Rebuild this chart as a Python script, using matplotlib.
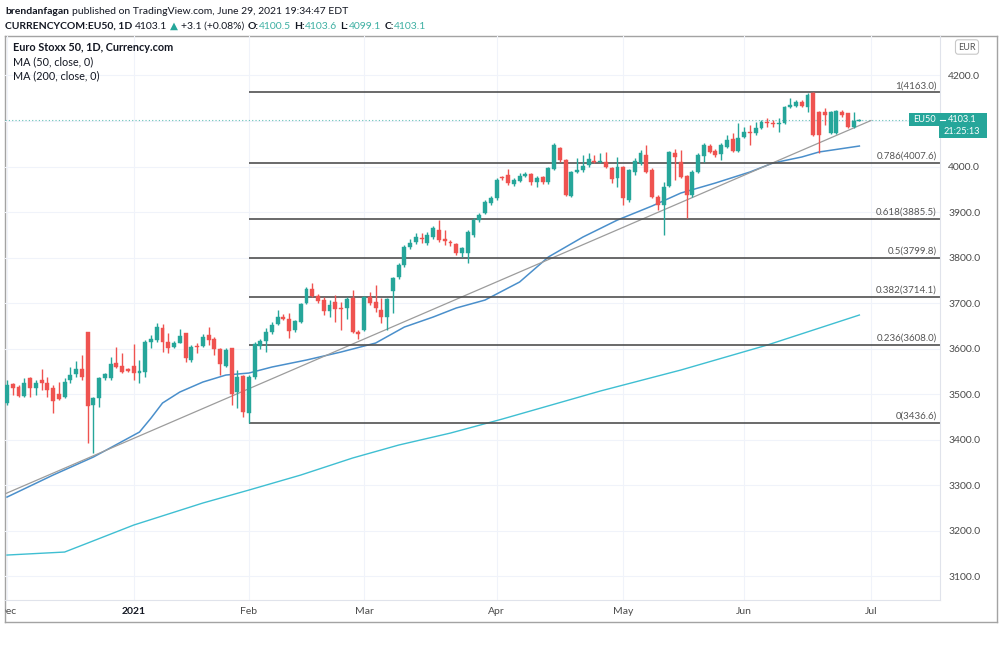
import numpy as np
import pandas as pd
import matplotlib
matplotlib.use("Agg")
import matplotlib.pyplot as plt
import matplotlib.transforms as mtransforms
from matplotlib.patches import Rectangle

plt.rcParams['font.family'] = ['Lato', 'DejaVu Sans']

# ---- data (daily bars, Dec 1 2020 .. Jun 29 2021) ----
holidays = ['2020-12-25', '2021-01-01']

opens = [3480.2, 3522.0, 3515.4, 3495.6, 3535.1, 3513.2, 3530.7, 3524.2, 3513.2, 3500.0,
         3493.4, 3530.7, 3543.9, 3554.9, 3636.2, 3475.8, 3491.2, 3535.1, 3535.1, 3568.1,
         3561.5, 3554.9, 3561.5, 3546.1, 3548.3, 3614.2, 3618.6, 3645.0, 3614.2, 3603.3,
         3612.0, 3634.0, 3574.7, 3605.5, 3605.5, 3629.6, 3620.8, 3598.9, 3561.5, 3601.1,
         3504.4, 3539.5, 3458.2, 3537.3, 3605.5, 3616.4, 3636.2, 3653.8, 3669.2, 3664.8,
         3640.6, 3658.2, 3700.0, 3730.8, 3715.4, 3706.6, 3682.4, 3702.2, 3689.0, 3689.0,
         3711.0, 3636.2, 3640.6, 3713.2, 3702.2, 3684.6, 3669.2, 3726.4, 3757.2, 3783.5,
         3823.1, 3834.1, 3842.9, 3831.9, 3845.1, 3860.5, 3840.7, 3834.1, 3829.7, 3809.9,
         3809.9, 3849.5, 3882.4, 3897.8, 3919.8, 3930.8, 3977.0, 3981.3, 3961.6, 3968.2,
         3979.2, 3983.5, 3966.0, 3977.0, 3966.0, 3994.5, 4040.7, 4014.3, 3935.2, 3987.9,
         3992.3, 4003.3, 4012.1, 4009.9, 4009.9, 3996.7, 3974.8, 3998.9, 3926.4, 3987.9,
         4007.7, 4025.3, 3992.3, 3933.0, 3915.4, 3957.2, 4029.7, 4009.9, 3979.2, 3937.4,
         3987.9, 4023.1, 4045.1, 4034.1, 4027.5, 4042.9, 4060.5, 4034.1, 4064.9, 4075.9,
         4073.7, 4084.7, 4097.8, 4095.6, 4093.4, 4095.6, 4130.8, 4133.0, 4141.8, 4130.8,
         4161.6, 4119.8, 4119.8, 4073.7, 4073.7, 4119.8, 4117.6, 4086.9, 4100.5]
highs = [3530.7, 3524.2, 3519.8, 3535.1, 3537.3, 3530.7, 3554.9, 3537.3, 3519.8, 3526.4,
         3535.1, 3559.3, 3572.5, 3585.7, 3636.2, 3493.4, 3537.3, 3546.1, 3581.3, 3603.3,
         3590.1, 3557.1, 3609.8, 3574.7, 3618.6, 3629.6, 3656.0, 3653.8, 3634.0, 3616.4,
         3642.8, 3634.0, 3607.6, 3612.0, 3631.8, 3647.2, 3625.2, 3601.1, 3601.1, 3601.1,
         3552.7, 3541.7, 3541.7, 3614.0, 3620.8, 3645.0, 3658.2, 3684.6, 3675.8, 3678.0,
         3662.6, 3700.0, 3735.2, 3743.9, 3719.8, 3713.2, 3706.6, 3717.6, 3702.2, 3713.2,
         3728.6, 3640.6, 3715.4, 3724.2, 3739.5, 3711.0, 3711.0, 3757.2, 3787.9, 3827.5,
         3840.0, 3853.0, 3853.9, 3856.0, 3870.0, 3882.4, 3860.5, 3838.0, 3831.9, 3823.1,
         3860.5, 3886.8, 3898.0, 3926.0, 3935.0, 3975.0, 3980.0, 3994.5, 3974.0, 3985.7,
         3987.0, 3985.7, 3979.2, 3980.0, 3999.0, 4051.7, 4042.9, 4016.0, 3990.0, 4018.7,
         4025.3, 4029.7, 4025.3, 4029.7, 4031.9, 3998.9, 4020.9, 4001.1, 3995.0, 4018.7,
         4036.3, 4047.3, 3996.7, 3937.4, 3966.0, 4034.0, 4038.5, 4036.3, 3981.3, 3992.3,
         4029.0, 4051.7, 4049.5, 4038.0, 4051.7, 4069.3, 4073.7, 4095.6, 4086.9, 4091.2,
         4097.8, 4102.2, 4106.6, 4102.2, 4106.6, 4133.0, 4150.6, 4146.0, 4146.0, 4161.6,
         4163.0, 4122.0, 4128.6, 4122.0, 4124.0, 4124.2, 4117.6, 4119.8, 4103.6]
lows = [3475.8, 3497.8, 3493.4, 3493.4, 3493.4, 3497.8, 3508.8, 3493.4, 3458.2, 3486.8,
        3491.2, 3524.2, 3537.3, 3530.7, 3392.3, 3370.3, 3471.4, 3530.7, 3530.7, 3557.1,
        3546.1, 3548.3, 3530.7, 3524.2, 3537.3, 3601.1, 3614.2, 3592.3, 3590.1, 3601.1,
        3612.0, 3570.3, 3570.3, 3590.1, 3603.3, 3607.6, 3585.7, 3541.7, 3559.3, 3475.8,
        3469.2, 3450.0, 3436.6, 3532.0, 3600.0, 3592.3, 3631.8, 3651.6, 3662.6, 3623.0,
        3636.2, 3656.0, 3697.8, 3713.2, 3700.0, 3673.6, 3669.2, 3658.2, 3640.6, 3664.8,
        3634.0, 3620.8, 3638.4, 3695.6, 3680.2, 3656.0, 3640.6, 3678.0, 3753.0, 3779.0,
        3818.0, 3830.0, 3831.9, 3828.0, 3840.0, 3834.1, 3827.5, 3826.0, 3805.5, 3801.1,
        3787.9, 3845.0, 3878.0, 3895.0, 3915.0, 3926.0, 3970.0, 3959.4, 3958.0, 3966.0,
        3976.0, 3959.4, 3955.0, 3962.0, 3962.0, 3992.0, 4009.9, 3935.0, 3933.0, 3985.7,
        3987.9, 3998.9, 4007.7, 4007.7, 3996.7, 3963.8, 3955.0, 3915.4, 3922.0, 3981.3,
        4003.3, 3985.7, 3930.8, 3904.4, 3849.5, 3955.0, 3970.4, 3974.8, 3886.8, 3933.0,
        3985.0, 4009.9, 4029.7, 4020.0, 4014.3, 4040.7, 4031.9, 4031.9, 4062.7, 4047.3,
        4069.3, 4082.5, 4086.9, 4086.9, 4075.9, 4093.0, 4128.6, 4130.0, 4130.0, 4119.8,
        4067.0, 4029.7, 4091.2, 4071.0, 4071.0, 4108.8, 4084.7, 4084.7, 4099.1]
closes = [3519.8, 3513.2, 3495.6, 3524.2, 3513.2, 3524.2, 3524.2, 3508.8, 3484.6, 3489.0,
          3526.4, 3541.7, 3554.9, 3537.3, 3473.6, 3491.2, 3535.1, 3543.9, 3565.9, 3559.3,
          3548.3, 3550.5, 3546.1, 3550.5, 3614.2, 3620.8, 3647.2, 3614.2, 3601.1, 3612.0,
          3627.4, 3579.1, 3603.3, 3603.3, 3625.2, 3618.6, 3598.9, 3565.9, 3596.7, 3500.0,
          3537.3, 3460.4, 3537.3, 3609.8, 3616.4, 3636.2, 3651.6, 3669.2, 3664.8, 3638.4,
          3660.4, 3697.8, 3730.8, 3715.4, 3704.4, 3682.4, 3695.6, 3686.8, 3686.8, 3708.8,
          3636.2, 3631.8, 3713.2, 3700.0, 3689.0, 3669.2, 3708.8, 3755.0, 3783.5, 3823.1,
          3831.9, 3845.1, 3840.7, 3849.5, 3864.9, 3838.5, 3836.3, 3831.9, 3809.9, 3820.9,
          3856.1, 3882.4, 3893.4, 3922.0, 3930.8, 3970.4, 3974.8, 3963.8, 3970.4, 3979.2,
          3983.5, 3966.0, 3974.8, 3966.0, 3996.7, 4047.3, 4014.3, 3937.4, 3987.9, 3992.3,
          4001.1, 4016.5, 4009.9, 4012.1, 3998.9, 3972.6, 3998.9, 3930.8, 3992.3, 4012.1,
          4029.7, 3987.9, 3933.0, 3915.4, 3955.0, 4031.9, 4020.9, 3977.0, 3937.4, 3987.9,
          4025.3, 4047.3, 4031.9, 4025.3, 4047.3, 4058.3, 4034.1, 4062.7, 4075.9, 4073.7,
          4084.7, 4097.8, 4095.6, 4093.4, 4095.6, 4130.8, 4135.2, 4141.8, 4133.0, 4157.2,
          4069.3, 4069.3, 4113.2, 4119.8, 4122.0, 4113.2, 4086.9, 4100.0, 4103.1]

# moving averages read at sample bars (bar number, value)
ma50_bar = [0, 8, 15, 23, 25, 27, 30, 34, 38, 42, 46, 52, 58, 64, 69, 74, 78, 83, 89, 94,
            100, 106, 112, 117, 123, 129, 133, 138, 141, 148]
ma50_val = [3273.5, 3321.9, 3361.5, 3416.4, 3447.0, 3480.2, 3504.3, 3526.3, 3541.7, 3546.1,
            3559.3, 3574.7, 3592.3, 3612.0, 3647.2, 3669.2, 3689.0, 3706.5, 3746.1, 3801.1,
            3845.0, 3882.4, 3913.2, 3941.7, 3963.7, 3987.9, 4007.7, 4020.9, 4031.9, 4045.0]
ma200_bar = [0, 10, 14, 22, 34, 42, 51, 60, 68, 77, 86, 103, 117, 132, 148]
ma200_val = [3146.1, 3152.7, 3172.4, 3212.0, 3260.4, 3288.9, 3321.9, 3359.3, 3387.8, 3414.2,
             3445.0, 3506.5, 3552.7, 3607.6, 3673.6]

# trend line drawing (bar number, price)
trend_bar = [-1, 150]
trend_val = [3277.0, 4101.0]

# fibonacci retracement, anchored at the Feb 1 low
fib_start_bar = 42
fib_ratio = [1, 0.786, 0.618, 0.5, 0.382, 0.236, 0]
fib_level = [4163.0, 4007.6, 3885.5, 3799.8, 3714.1, 3608.0, 3436.6]

price_ticks = [3100, 3200, 3300, 3400, 3500, 3600, 3700, 3800, 3900, 4000, 4100, 4200]

GREEN = '#26a69a'
RED = '#ef5350'
TEAL = '#26a69a'
TXT = '#131722'
GREY = '#4a4a4a'

# ---- bar calendar ----
cal = pd.bdate_range('2020-12-01', '2021-07-02')
cal = cal[~cal.isin(pd.to_datetime(holidays))]
n = len(closes)
idx = np.arange(n)

month_pos, month_lab = [], []
prev = None
for i, d in enumerate(cal):
    if d.month != prev:
        month_pos.append(i)
        month_lab.append('2021' if d.month == 1 else d.strftime('%b'))
        prev = d.month

# ---- figure ----
W, H = 1000, 653
fig = plt.figure(figsize=(W / 100, H / 100), dpi=100)


def fx(px):
    return px / W


def fy(py):
    return 1 - py / H


frame = fig.add_axes([fx(5), fy(622), (997 - 5) / W, (622 - 36) / H])
frame.set_xticks([])
frame.set_yticks([])
for s in frame.spines.values():
    s.set_color('#a3a3a3')
    s.set_linewidth(1.0)

ax = fig.add_axes([fx(5), fy(600), 935 / W, 564 / H])
ax.patch.set_alpha(0)
ax.set_xlim(-0.35, 162.0)
ax.set_ylim(3047.3, 4286.8)

ax.grid(True, color='#f0f3fa', lw=0.8)
ax.set_axisbelow(True)

# candles
o, h, l, c = map(np.array, (opens, highs, lows, closes))
col = np.where(c >= o, GREEN, RED)
ax.vlines(idx, l, h, colors=col, lw=1, zorder=3)
ax.bar(idx, np.maximum(np.abs(c - o), 1.8), bottom=np.minimum(o, c), width=0.68,
       color=col, edgecolor=col, linewidth=0.3, zorder=4)

# indicators and drawings
ax.plot(ma200_bar, ma200_val, color='#3fbfd2', lw=1.0, zorder=2)
ax.plot(ma50_bar, ma50_val, color='#4a8fcb', lw=1.1, zorder=2)
ax.plot(trend_bar, trend_val, color='#9c9c9c', lw=0.9, zorder=2)

x_end = ax.get_xlim()[1]
for r, v in zip(fib_ratio, fib_level):
    ax.hlines(v, fib_start_bar, x_end, color='#505050', lw=1.2, zorder=2)
    ax.annotate(f"{r:g}({v:.1f})", (x_end, v), xytext=(-2.5, 1.5), textcoords='offset points',
                ha='right', va='bottom', fontsize=7, color='#555555')

last = closes[-1]
ax.axhline(last, color=TEAL, ls=(0, (1, 2)), lw=0.8, alpha=0.7, zorder=1)

# axes styling
for s in ('left', 'top'):
    ax.spines[s].set_visible(False)
for s in ('right', 'bottom'):
    ax.spines[s].set_color('#e0e3eb')

# the price scale hides labels that sit under the last-price tag
ax.yaxis.tick_right()
ax.set_yticks(price_ticks)
ax.set_yticklabels(['' if abs(v - last) < 40 else f"{v:.1f}" for v in price_ticks])
ax.tick_params(axis='y', length=0, pad=6, labelsize=7.5, labelcolor=GREY)

ax.set_xticks(month_pos)
ax.set_xticklabels(month_lab)
ax.tick_params(axis='x', length=0, pad=5, labelsize=7.5, labelcolor=GREY)
clipbox = mtransforms.TransformedBbox(mtransforms.Bbox([[fx(5), 0], [1, 1]]), fig.transFigure)
for t in ax.get_xticklabels():
    t.set_clip_box(clipbox)
    t.set_clip_on(True)
    if t.get_text() == '2021':
        t.set_fontweight('bold')
        t.set_color(TXT)

# last price tag
trans = mtransforms.blended_transform_factory(ax.transAxes, ax.transData)
tag = fig.dpi_scale_trans + mtransforms.ScaledTranslation(1.0, last, trans)
ax.add_patch(Rectangle((-0.31, -0.06), 0.31, 0.13, transform=tag, fc=TEAL, ec='none',
                       clip_on=False, zorder=6))
ax.add_patch(Rectangle((-0.01, -0.18), 0.48, 0.25, transform=tag, fc=TEAL, ec='none',
                       clip_on=False, zorder=6))
ax.plot([1.0, 1.005], [last, last], color='white', lw=0.8, transform=trans,
        clip_on=False, zorder=7)
ax.annotate('EU50', (1.0, last), xycoords=trans, xytext=(-11.3, 0), textcoords='offset points',
            ha='center', va='center', fontsize=6.6, color='white', zorder=7)
ax.annotate(f"{last:.1f}", (1.0, last), xycoords=trans, xytext=(15.8, 0.3),
            textcoords='offset points', ha='center', va='center', fontsize=6.6,
            color='white', zorder=7)
ax.annotate('21:25:13', (1.0, last), xycoords=trans, xytext=(15.8, -8.9),
            textcoords='offset points', ha='center', va='center', fontsize=6.6,
            color='white', zorder=7)

fig.text(fx(967), fy(47), 'EUR', ha='center', va='center', fontsize=6.5, color='#555555',
         bbox=dict(boxstyle='round,pad=0.3', fc='white', ec='#c8c8c8', lw=0.8))


# header and legend text
def write_parts(parts, x, y, size):
    s, colr, wt, gap = parts[0]
    t = fig.text(x, y, s, fontsize=size, color=colr, fontweight=wt, va='bottom')
    for s, colr, wt, gap in parts[1:]:
        t = frame.annotate(s, xy=(1, 0), xycoords=t, xytext=(gap, 0),
                           textcoords='offset points', fontsize=size, color=colr,
                           fontweight=wt, va='bottom', annotation_clip=False)


write_parts([('brendanfagan', TXT, 'bold', 0),
             ('published on TradingView.com, June 29, 2021 19:34:47 EDT', TXT, 'normal', 2)],
            fx(5), fy(16), 7.5)
write_parts([('CURRENCYCOM:EU50, 1D', TXT, 'bold', 0),
             ('4103.1', TXT, 'normal', 2), ('▲', GREEN, 'normal', 2),
             ('+3.1 (+0.08%)', TXT, 'normal', 2),
             ('O:', TXT, 'bold', 2.5), ('4100.5', '#3fb0a3', 'normal', 0),
             ('H:', TXT, 'bold', 2.5), ('4103.6', '#3fb0a3', 'normal', 0),
             ('L:', TXT, 'bold', 2.5), ('4099.1', '#3fb0a3', 'normal', 0),
             ('C:', TXT, 'bold', 2.5), ('4103.1', '#3fb0a3', 'normal', 0)],
            fx(5), fy(31), 7.5)

fig.text(fx(13), fy(53), 'Euro Stoxx 50, 1D, Currency.com', fontsize=7.8, color=TXT,
         fontweight='bold', va='bottom')
fig.text(fx(13), fy(67), 'MA (50, close, 0)', fontsize=7.8, color=TXT, va='bottom')
fig.text(fx(13), fy(81), 'MA (200, close, 0)', fontsize=7.8, color=TXT, va='bottom')

fig.savefig('out.png', dpi=100)
